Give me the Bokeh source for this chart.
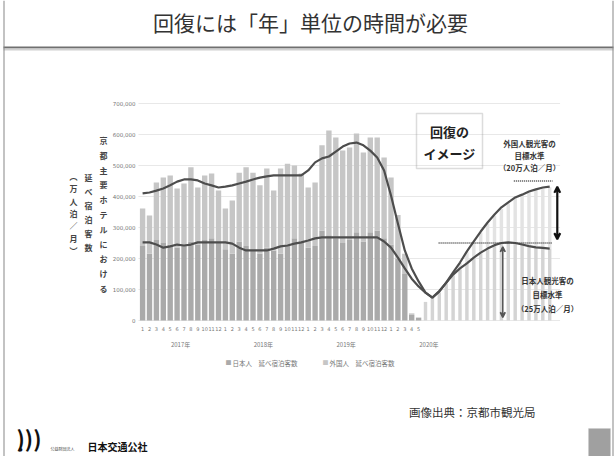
from bokeh.plotting import figure
from bokeh.models import Range1d, Label, BoxAnnotation, Arrow, VeeHead, ColumnDataSource
from bokeh.embed import file_html
from bokeh.resources import INLINE
from bokeh.core.properties import value

JP = "Noto Sans CJK JP"
W, H = 616, 456

# ---- data -------------------------------------------------------------
years = ["2017年", "2018年", "2019年", "2020年"]
months_per_year = 12
month_labels = [str(m) for m in range(1, 13)] * 3 + ["1", "2", "3", "4", "5"]
y_ticks = [0, 100000, 200000, 300000, 400000, 500000, 600000, 700000]

# monthly guest-nights at major Kyoto hotels (Jan 2017 - May 2020)
total_guests = [
    361000, 339000, 445000, 461000, 468000, 426000, 442000, 494000, 429000, 468000, 474000, 419000,
    361000, 387000, 477000, 494000, 477000, 436000, 490000, 419000, 490000, 506000, 500000, 474000,
    429000, 445000, 565000, 613000, 590000, 548000, 558000, 603000, 542000, 590000, 590000, 526000,
    461000, 340000, 215000, 23000, 10000,
]
japan_guests = [
    240000, 215000, 260000, 250000, 245000, 235000, 245000, 255000, 245000, 260000, 265000, 250000,
    230000, 215000, 255000, 240000, 230000, 215000, 235000, 225000, 215000, 245000, 265000, 250000,
    235000, 240000, 290000, 275000, 265000, 250000, 260000, 285000, 255000, 285000, 290000, 265000,
    245000, 200000, 150000, 18000, 8000,
]

# smoothed trends, continued into the recovery image (60 months)
trend_total = [
    410000, 413000, 419000, 426000, 436000, 448000, 455000, 455000, 452000, 442000, 436000, 429000,
    432000, 436000, 442000, 448000, 455000, 461000, 465000, 468000, 468000, 468000, 468000, 468000,
    484000, 510000, 523000, 529000, 545000, 561000, 571000, 574000, 565000, 548000, 526000, 484000,
    403000, 313000, 226000, 168000, 126000, 90000, 74000, 93000, 122000, 155000, 187000, 223000,
    255000, 287000, 316000, 342000, 365000, 381000, 397000, 406000, 416000, 423000, 429000, 432000,
]
trend_japan = [
    252000, 252000, 245000, 235000, 239000, 245000, 242000, 245000, 252000, 252000, 252000, 252000,
    252000, 248000, 235000, 226000, 226000, 226000, 226000, 232000, 239000, 242000, 248000, 252000,
    258000, 265000, 268000, 268000, 268000, 268000, 268000, 268000, 268000, 268000, 268000, 255000,
    235000, 203000, 168000, 135000, 110000, 90000, 74000, 95000, 122000, 148000, 168000, 184000,
    203000, 219000, 232000, 243000, 250000, 252000, 250000, 245000, 240000, 236000, 234000, 232000,
]

# recovery-image bars (Jun 2020 onwards)
proj_total = [60000, 74000, 90000, 119000, 150000, 185000, 220000, 250000, 283000, 312000,
              338000, 360000, 378000, 394000, 404000, 414000, 421000, 427000, 430000]
proj_japan = [60000, 74000, 90000, 119000, 145000, 165000, 182000, 200000, 216000, 230000,
              241000, 248000, 250000, 248000, 244000, 240000, 236000, 234000, 232000]

japan_target = 250000      # 25万人泊／月
foreign_target = 200000    # 20万人泊／月

legend_items = ["日本人　延べ宿泊客数", "外国人　延べ宿泊客数"]

# ---- figure: the frame spans the whole slide ---------------------------
# month index 0 sits 142 px from the left, one month = 6.9 px;
# zero guests sit 320 px from the top, 100,000 guests = 31 px
p = figure(width=W, height=H, output_backend="svg", toolbar_location=None,
           x_axis_type=None, y_axis_type=None,
           x_range=Range1d(-142.1 / 6.9, (W - 142.1) / 6.9),
           y_range=Range1d(-(H - 320) / 0.00031, 320 / 0.00031),
           min_border=0, background_fill_color="white", border_fill_color="white")
p.outline_line_color = None
p.grid.visible = False

n_hist = len(total_guests)
x_left, x_right = -0.6, 60.5

# horizontal grid
p.segment(x0=[x_left] * len(y_ticks), y0=y_ticks, x1=[x_right] * len(y_ticks), y1=y_ticks,
          line_color="#e8e8e8", line_width=1)

hist = ColumnDataSource(dict(
    x=list(range(n_hist)),
    japan=japan_guests,
    foreign=[t - j for t, j in zip(total_guests, japan_guests)],
))
p.vbar_stack(["japan", "foreign"], x="x", width=0.78, source=hist,
             color=["#aaaaaa", "#c6c6c6"], line_color=None)

proj_x = list(range(n_hist, n_hist + len(proj_total)))
proj = ColumnDataSource(dict(
    x=proj_x,
    japan=proj_japan,
    foreign=[t - j for t, j in zip(proj_total, proj_japan)],
))
p.vbar_stack(["japan", "foreign"], x="x", width=0.5, source=proj,
             color=["#d4d4d4", "#e3e3e3"], line_color=None)

trend_x = list(range(len(trend_total)))
p.line(trend_x, trend_total, line_color="#4d4d4d", line_width=2.2)
p.line(trend_x, trend_japan, line_color="#4d4d4d", line_width=2.2)

# target levels
jp_level = japan_target
all_level = japan_target + foreign_target
p.segment(x0=[42.9], y0=[jp_level], x1=[59.4], y1=[jp_level],
          line_color="#444", line_width=1.4, line_dash="1 1")
p.segment(x0=[53.8], y0=[all_level], x1=[59.4], y1=[all_level],
          line_color="#444", line_width=1.4, line_dash="1 1")

p.add_layout(Arrow(x_start=60.1, y_start=jp_level + 12000, x_end=60.1, y_end=all_level - 18000,
                   line_color="#111", line_width=2.2,
                   start=VeeHead(size=6, line_color="#111", line_width=2),
                   end=VeeHead(size=6, line_color="#111", line_width=2)))
p.add_layout(Arrow(x_start=52.2, y_start=10000, x_end=52.2, y_end=jp_level - 12000,
                   line_color="#555", line_width=1.5,
                   start=VeeHead(size=5, line_color="#555", line_width=1.5),
                   end=VeeHead(size=5, line_color="#555", line_width=1.5)))

# ---- axis labels --------------------------------------------------------
p.text(x=[x_left] * len(y_ticks), y=y_ticks, text=[f"{v:,}" for v in y_ticks],
       x_offset=-3, text_align="right", text_baseline="middle",
       text_font=value("DejaVu Sans"), text_font_size="5.5px", text_color="#777")

p.text(x=list(range(n_hist)), y=[-29000] * n_hist, text=month_labels,
       text_align="center", text_baseline="middle",
       text_font=value("DejaVu Sans"), text_font_size="5px", text_color="#777")

year_centers = [k * months_per_year + (months_per_year - 1) / 2 for k in range(len(years))]
p.text(x=year_centers, y=[-78000] * len(years), text=years,
       text_align="center", text_baseline="middle",
       text_font=value(JP), text_font_size="6px", text_color="#777")


# ---- slide decorations (canvas pixel positions, top-left origin) --------
def label(px, py, text, size, color="#333", align="left", baseline="middle", style="normal", **kw):
    p.add_layout(Label(x=px, y=H - py, x_units="screen", y_units="screen", text=text,
                       text_font=JP, text_font_size=f"{size}px", text_color=color,
                       text_align=align, text_baseline=baseline, text_font_style=style, **kw))


def vlabel(px, py, step, text, size, color="#444", style="bold"):
    # vertical writing: one character per row
    for k, ch in enumerate(text):
        label(px, py + k * step, ch, size, color=color, align="center", style=style)


def box(l, t, r, b, fill=None, line=None, lw=1):
    p.add_layout(BoxAnnotation(left=l, right=r, top=H - t, bottom=H - b,
                               left_units="screen", right_units="screen",
                               top_units="screen", bottom_units="screen",
                               fill_color=fill, fill_alpha=1 if fill else 0,
                               line_color=line, line_width=lw, level="overlay"))


label(310, 21, "回復には「年」単位の時間が必要", 21, color="#333", align="center")
box(3, 46, 613, 48, fill="#707070")
box(3, 48, 613, 50, fill="#d0d0d0")
box(3, 0, 4, 456, fill="#888888")
box(612, 0, 613, 456, fill="#888888")

# y-axis title (vertical)
vlabel(103, 140, 14.8, "京都主要ホテルにおける", 8)
vlabel(88, 177, 14.0, "延べ宿泊客数", 8)
vlabel(73, 176, 12.3, "︵万人泊／月︶", 8)

# legend
label(225, 362, "■", 6, color="#aaaaaa")
label(232, 362, legend_items[0], 6.5, color="#777")
label(322, 362, "■", 6, color="#c6c6c6")
label(329, 362, legend_items[1], 6.5, color="#777")

# recovery image box
box(416, 113, 482, 168, line="#8a8a8a", lw=1.5)
label(449, 131, "回復の", 13, color="#222", align="center", style="bold")
label(449, 153, "イメージ", 13, color="#222", align="center", style="bold")

label(529, 143, "外国人観光客の", 7.5, color="#333", align="center", style="bold")
label(529, 155, "目標水準", 7.5, color="#333", align="center", style="bold")
label(529, 167, "（20万人泊／月）", 7.5, color="#333", align="center", style="bold")

label(547, 280, "日本人観光客の", 7.5, color="#333", align="center", style="bold")
label(547, 294, "目標水準", 7.5, color="#333", align="center", style="bold")
label(547, 308, "（25万人泊／月）", 7.5, color="#333", align="center", style="bold")

# footer
label(535, 411, "画像出典：京都市観光局", 11.5, color="#333", align="right")
label(16, 436, ")))", 22, color="#111", style="bold")
label(18, 449, "●", 4, color="#111")
label(50, 448, "公益財団法人", 4, color="#444")
label(87, 446, "日本交通公社", 10, color="#111", style="bold")
box(588, 428, 610, 456, fill="#a0a0a0", line="#c8c8c8")
label(599, 441, "9", 8, color="white", align="center")

open("out.html", "w").write(file_html(p, INLINE))
